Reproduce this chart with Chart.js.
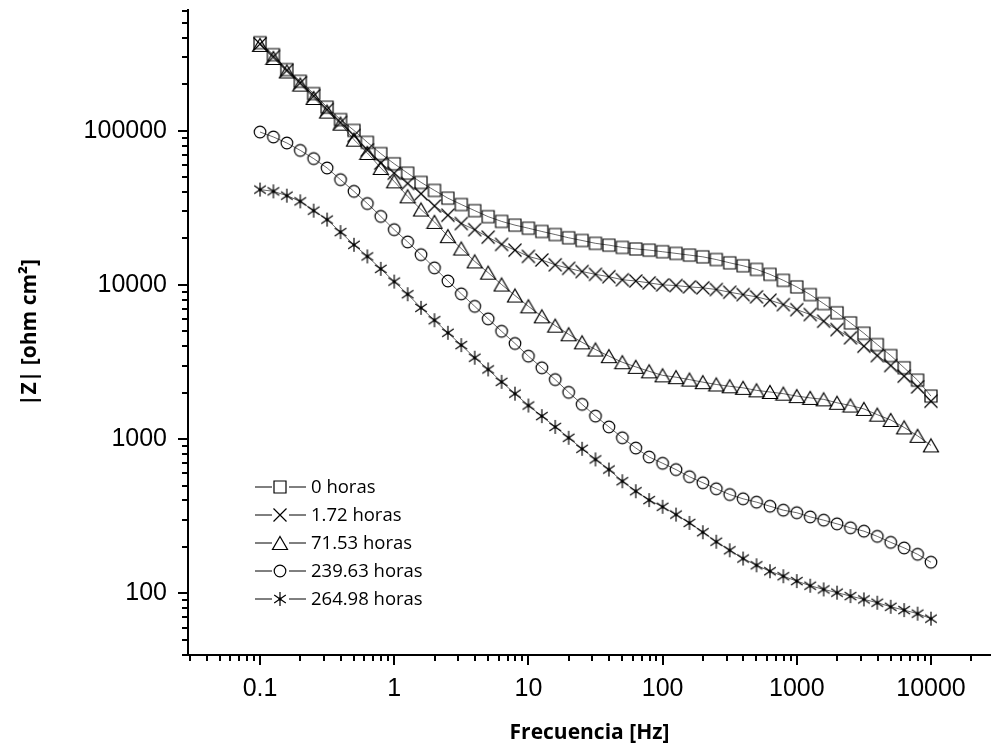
<!DOCTYPE html>
<html>
<head>
<meta charset="utf-8">
<script src="https://cdn.jsdelivr.net/npm/chart.js@4.4.1/dist/chart.umd.min.js"></script>
<style>
  html, body { margin: 0; padding: 0; background: #fff; }
</style>
</head>
<body>
<canvas id="impedancia" width="991" height="750"></canvas>
<script>
// measured frequencies [Hz], 10 points per decade
var frecuencia = [0.1, 0.1259, 0.1585, 0.1995, 0.2512, 0.3162, 0.3981, 0.5012, 0.631, 0.7943,
  1, 1.259, 1.585, 1.995, 2.512, 3.162, 3.981, 5.012, 6.31, 7.943,
  10, 12.59, 15.85, 19.95, 25.12, 31.62, 39.81, 50.12, 63.1, 79.43,
  100, 125.9, 158.5, 199.5, 251.2, 316.2, 398.1, 501.2, 631, 794.3,
  1000, 1259, 1585, 1995, 2512, 3162, 3981, 5012, 6310, 7943, 10000];

// |Z| [ohm cm2] for each immersion time
var z_0h = [372000, 311000, 249000, 209000, 174000, 142000, 118000, 100400, 84000, 71000,
  61000, 53000, 46200, 41000, 36500, 33200, 30300, 27700, 25800, 24400,
  23300, 22200, 21200, 20200, 19400, 18600, 18100, 17500, 17100, 16800,
  16400, 16000, 15600, 15200, 14600, 13900, 13300, 12600, 11700, 10700,
  9700, 8650, 7560, 6590, 5670, 4860, 4100, 3480, 2900, 2410, 1900];

var z_1h = [365000, 302000, 246000, 204000, 168000, 137000, 113000, 93000, 75000, 61600,
  53000, 45500, 39000, 32500, 28300, 25000, 22800, 20400, 18300, 16800,
  15300, 14500, 13500, 12800, 12200, 11700, 11300, 10800, 10600, 10300,
  10000, 9900, 9700, 9570, 9330, 8960, 8650, 8360, 7950, 7450,
  6910, 6420, 5810, 5130, 4540, 4000, 3480, 3000, 2560, 2180, 1760];

var z_71h = [360000, 296000, 242000, 199000, 163000, 133000, 111000, 87400, 71700, 57300,
  46900, 37500, 30800, 25600, 20700, 17200, 14200, 12000, 10050, 8530,
  7260, 6250, 5440, 4780, 4240, 3810, 3450, 3150, 2940, 2750,
  2590, 2520, 2430, 2340, 2260, 2200, 2150, 2070, 2020, 1970,
  1900, 1850, 1810, 1720, 1650, 1570, 1440, 1330, 1190, 1050, 910];

var z_239h = [98000, 91000, 83200, 74500, 65900, 57300, 48100, 40400, 33700, 27800,
  22800, 19000, 15700, 12900, 10600, 8750, 7260, 6020, 5000, 4170,
  3450, 2900, 2430, 2010, 1680, 1410, 1200, 1020, 875, 765,
  697, 634, 570, 521, 476, 437, 410, 390, 367, 346,
  333, 313, 298, 282, 266, 253, 234, 214, 197, 179, 159];

var z_264h = [41500, 40400, 37900, 34800, 30300, 26500, 22000, 18200, 15300, 12700,
  10500, 8700, 7100, 5900, 4890, 4070, 3370, 2830, 2350, 1970,
  1650, 1410, 1200, 1020, 865, 738, 635, 533, 459, 402,
  364, 324, 286, 249, 216, 190, 168, 152, 139, 129,
  120, 112, 106, 101, 95.9, 91.3, 86.9, 81.8, 77.8, 73.8, 68.5];

var etiquetas = ['0 horas', '1.72 horas', '71.53 horas', '239.63 horas', '264.98 horas'];
var marcas = ['cuadro', 'cruz', 'triangulo', 'circulo', 'estrella'];

// labelled ticks, the minor ones (2..9) get drawn by a plugin
var xTicks = [0.1, 1, 10, 100, 1000, 10000];
var yTicks = [100, 1000, 10000, 100000];

// hollow black symbols, drawn once and reused as pointStyle
function marca(tipo) {
  var c = document.createElement('canvas');
  c.width = 18; c.height = 18;
  var g = c.getContext('2d');
  g.strokeStyle = '#000';
  g.fillStyle = '#000';
  g.lineWidth = 1.2;
  g.translate(9, 9);
  g.beginPath();
  if (tipo === 'cuadro') {
    g.rect(-6, -6, 12, 12);
  } else if (tipo === 'cruz') {
    g.moveTo(-6.5, -6.5); g.lineTo(6.5, 6.5);
    g.moveTo(-6.5, 6.5); g.lineTo(6.5, -6.5);
  } else if (tipo === 'triangulo') {
    g.moveTo(0, -6.5); g.lineTo(7.5, 6.5); g.lineTo(-7.5, 6.5); g.closePath();
  } else if (tipo === 'circulo') {
    g.arc(0, 0, 5.8, 0, 2 * Math.PI);
  } else if (tipo === 'estrella') {
    g.moveTo(0, -7); g.lineTo(0, 7);
    g.moveTo(-5.8, -4); g.lineTo(5.8, 4);
    g.moveTo(-5.8, 4); g.lineTo(5.8, -4);
  }
  g.stroke();
  if (tipo === 'estrella') {
    g.beginPath(); g.arc(0, 0, 1.6, 0, 2 * Math.PI); g.fill();
  }
  return c;
}

function serie(valores, k) {
  var pts = [];
  for (var i = 0; i < frecuencia.length; i++) {
    pts.push({x: frecuencia[i], y: valores[i]});
  }
  return {
    label: etiquetas[k],
    data: pts,
    showLine: true,
    borderColor: 'rgba(0,0,0,0.75)',
    borderWidth: 0.8,
    backgroundColor: 'transparent',
    pointStyle: marca(marcas[k]),
    pointRadius: 6,
    pointHoverRadius: 6
  };
}

// short outward ticks at 2..9 of every decade
var minorTicks = {
  id: 'minorTicks',
  afterDraw: function(chart) {
    var ctx = chart.ctx, xs = chart.scales.x, ys = chart.scales.y;
    ctx.save();
    ctx.strokeStyle = '#000';
    ctx.lineWidth = 2;
    ctx.beginPath();
    for (var e = -2; e <= 5; e++) {
      for (var m = 2; m <= 9; m++) {
        var v = m * Math.pow(10, e);
        if (v > xs.min && v < xs.max) {
          var px = Math.round(xs.getPixelForValue(v));
          ctx.moveTo(px, xs.top); ctx.lineTo(px, xs.top + 6);
        }
        if (v > ys.min && v < ys.max) {
          var py = Math.round(ys.getPixelForValue(v));
          ctx.moveTo(ys.right, py); ctx.lineTo(ys.right - 6, py);
        }
      }
    }
    ctx.stroke();
    ctx.restore();
  }
};

// legend box inside the plot, bottom left: line - symbol - line - text
var leyenda = {
  id: 'leyenda',
  afterDraw: function(chart) {
    var ctx = chart.ctx, a = chart.chartArea;
    var x0 = a.left + 67, y0 = a.bottom - 168;
    ctx.save();
    ctx.font = '18.5px "Open Sans"';
    ctx.fillStyle = '#000';
    ctx.textBaseline = 'middle';
    chart.data.datasets.forEach(function(ds, k) {
      var y = y0 + k * 28;
      ctx.strokeStyle = '#000';
      ctx.lineWidth = 1;
      ctx.beginPath();
      ctx.moveTo(x0, y); ctx.lineTo(x0 + 17, y);
      ctx.moveTo(x0 + 34, y); ctx.lineTo(x0 + 51, y);
      ctx.stroke();
      var img = ds.pointStyle;
      ctx.drawImage(img, x0 + 25 - img.width / 2, y - img.height / 2);
      ctx.fillText(ds.label, x0 + 56, y + 1);
    });
    ctx.restore();
  }
};

var tickFont = {family: '"Liberation Sans", Arial, sans-serif', size: 25};
var titleFont = {family: '"Open Sans", sans-serif', size: 21, weight: 'bold'};
var gridOpts = {
  drawOnChartArea: false, drawTicks: true, tickLength: 10,
  tickWidth: 2, tickColor: '#000', lineWidth: 2, color: '#000'
};

var ctx = document.getElementById('impedancia').getContext('2d');
var chart = new Chart(ctx, {
  type: 'scatter',
  data: {
    datasets: [serie(z_0h, 0), serie(z_1h, 1), serie(z_71h, 2), serie(z_239h, 3), serie(z_264h, 4)]
  },
  options: {
    responsive: false,
    animation: false,
    devicePixelRatio: 1,
    layout: {autoPadding: false, padding: {top: 10, right: 0, left: 0, bottom: 0}},
    plugins: {
      legend: {display: false},
      tooltip: {enabled: false}
    },
    scales: {
      x: {
        type: 'logarithmic',
        position: 'bottom',
        min: 0.02907,
        max: 28000,
        afterBuildTicks: function(scale) {
          scale.ticks = xTicks.map(function(v) { return {value: v, major: true}; });
        },
        afterFit: function(scale) {
          scale.height = 95;
          scale.paddingLeft = 0; scale.paddingRight = 0;
        },
        ticks: {
          autoSkip: false, maxRotation: 0, padding: 9,
          color: '#000', font: tickFont,
          callback: function(v) { return String(v); }
        },
        grid: gridOpts,
        border: {display: true, color: '#000', width: 2},
        title: {display: true, text: 'Frecuencia [Hz]', color: '#000', font: titleFont, padding: {top: 0, bottom: 4}}
      },
      y: {
        type: 'logarithmic',
        position: 'left',
        min: 39.8,
        max: 606000,
        afterBuildTicks: function(scale) {
          scale.ticks = yTicks.map(function(v) { return {value: v, major: true}; });
        },
        afterFit: function(scale) {
          scale.width = 188;
          scale.paddingTop = 0; scale.paddingBottom = 0;
        },
        ticks: {
          autoSkip: false, padding: 11,
          color: '#000', font: tickFont,
          callback: function(v) { return String(v); }
        },
        grid: gridOpts,
        border: {display: true, color: '#000', width: 2},
        title: {display: true, text: '|Z| [ohm cm²]', color: '#000', font: titleFont, padding: {top: 17, bottom: 0}}
      }
    }
  },
  plugins: [minorTicks, leyenda]
});
</script>
</body>
</html>
